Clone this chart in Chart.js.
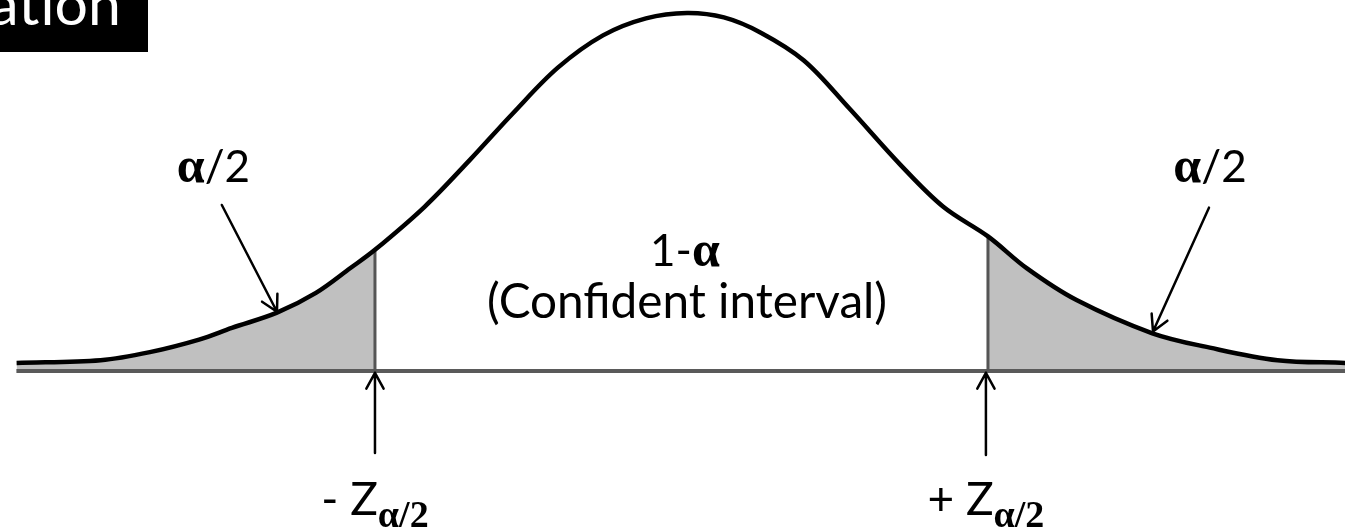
<!DOCTYPE html>
<html lang="en">
<head>
<meta charset="UTF-8">
<title>Confidence interval</title>
<script src="https://cdn.jsdelivr.net/npm/chart.js"></script>
<style>
    html, body { margin: 0; padding: 0; background: #fff; }
    .chart-box { position: relative; width: 1345px; height: 530px; }
</style>
</head>
<body>
<div class="chart-box"><canvas id="bell"></canvas></div>
<script>
// bell curve (z on the x axis, density height on y)
const curveZ = [-3.26, -2.85, -2.61, -2.37, -2.21, -1.99, -1.80, -1.63, -1.512, -1.27, -1.05, -0.84, -0.62, -0.40, -0.19, 0.01, 0.19, 0.37, 0.58, 0.80, 1.05, 1.26, 1.478, 1.67, 1.91, 2.28, 2.56, 2.89, 3.22];
const curveY = [0.009, 0.012, 0.021, 0.035, 0.048, 0.065, 0.087, 0.115, 0.135, 0.183, 0.235, 0.287, 0.338, 0.374, 0.393, 0.399, 0.394, 0.377, 0.346, 0.293, 0.230, 0.183, 0.150, 0.114, 0.079, 0.042, 0.026, 0.012, 0.009];

// critical values
const critZ = [-1.512, 1.478];
const critY = [0.135, 0.150];

// texts
const titleText = "ation";
const tailText = "α/2";
const centerTop = "1-";
const centerAlpha = "α";
const centerSub = "(Confident interval)";
const zLeft = "- Z";
const zRight = "+ Z";

// axis window
const zMin = -3.341, zMax = 3.2195;
const yMin = -0.1772, yMax = 0.4134;

function pts(xs, ys) {
    return xs.map((x, i) => ({ x: x, y: ys[i] }));
}

const leftTail = pts(curveZ, curveY).filter(p => p.x <= critZ[0]);
const rightTail = pts(curveZ, curveY).filter(p => p.x >= critZ[1]);

const sans = '"Lato", "Open Sans", sans-serif';
const greek = '"Liberation Serif", "DejaVu Serif", serif';

// draw a row of text pieces, centred on cx
function drawRuns(ctx, runs, cx, by) {
    let w = 0;
    runs.forEach(r => { ctx.font = r.font; r.w = ctx.measureText(r.t).width; w += r.w; });
    let x = cx - w / 2;
    runs.forEach(r => {
        ctx.font = r.font;
        ctx.fillText(r.t, x, by + (r.dy || 0));
        x += r.w;
    });
}

function arrow(ctx, x1, y1, x2, y2) {
    const a = Math.atan2(y2 - y1, x2 - x1);
    const len = 18, sp = 0.5;
    ctx.beginPath();
    ctx.moveTo(x1, y1);
    ctx.lineTo(x2, y2);
    ctx.moveTo(x2 - len * Math.cos(a - sp), y2 - len * Math.sin(a - sp));
    ctx.lineTo(x2, y2);
    ctx.lineTo(x2 - len * Math.cos(a + sp), y2 - len * Math.sin(a + sp));
    ctx.stroke();
}

const notes = {
    id: 'notes',
    afterDatasetsDraw(chart) {
        const ctx = chart.ctx;
        const sx = chart.scales.x, sy = chart.scales.y;
        const X = v => sx.getPixelForValue(v);
        const Y = v => sy.getPixelForValue(v);
        ctx.save();
        ctx.strokeStyle = '#000';
        ctx.lineWidth = 2.5;
        ctx.lineCap = 'round';
        ctx.lineJoin = 'round';
        // arrows to the tails
        arrow(ctx, X(-2.259), Y(0.185), X(-1.99), Y(0.066));
        arrow(ctx, X(2.556), Y(0.182), X(2.283), Y(0.044));
        // arrows up to the critical values
        arrow(ctx, X(critZ[0]), Y(-0.0914), X(critZ[0]), Y(-0.002));
        arrow(ctx, X(1.468), Y(-0.0936), X(1.468), Y(-0.002));

        ctx.fillStyle = '#000';
        ctx.textBaseline = 'alphabetic';
        ctx.textAlign = 'left';
        // α/2 labels
        [-2.30, 2.561].forEach(z => {
            drawRuns(ctx, [
                { t: tailText[0], font: 'bold 50px ' + greek },
                { t: tailText.slice(1), font: '44px ' + sans }
            ], X(z), Y(0.2106));
        });
        // centre label
        drawRuns(ctx, [
            { t: centerTop, font: '44px ' + sans },
            { t: centerAlpha, font: 'bold 50px ' + greek }
        ], X(0.0), Y(0.117));
        ctx.font = '40px ' + sans;
        let w = ctx.measureText(centerSub).width;
        let fs = 40 * 400 / w;
        drawRuns(ctx, [{ t: centerSub, font: fs.toFixed(1) + 'px ' + sans }], X(0.01), Y(0.0591));
        // critical value labels
        const dy = Y(-0.1738) - Y(-0.1604);
        drawRuns(ctx, [
            { t: zLeft, font: '46px ' + sans },
            { t: tailText, font: 'bold 38px ' + greek, dy: dy }
        ], X(critZ[0]), Y(-0.1604));
        drawRuns(ctx, [
            { t: zRight, font: '46px ' + sans },
            { t: tailText, font: 'bold 38px ' + greek, dy: dy }
        ], X(1.468), Y(-0.1604));

        // title box cut at the top-left corner
        ctx.fillStyle = '#000';
        ctx.fillRect(0, 0, 148, 52);
        ctx.fillStyle = '#fff';
        ctx.font = '59px ' + sans;
        ctx.textAlign = 'right';
        ctx.fillText(titleText, 121, 25);
        ctx.restore();
    }
};

new Chart(document.getElementById('bell'), {
    type: 'line',
    data: {
        datasets: [
            {
                data: pts(curveZ, curveY),
                borderColor: '#000',
                borderWidth: 4.5,
                tension: 0.35,
                fill: false,
                order: 0
            },
            {
                data: [{ x: critZ[0], y: 0 }, { x: critZ[0], y: critY[0] }],
                borderColor: '#555',
                borderWidth: 3,
                fill: false,
                order: 1
            },
            {
                data: [{ x: critZ[1], y: 0 }, { x: critZ[1], y: critY[1] }],
                borderColor: '#555',
                borderWidth: 3,
                fill: false,
                order: 1
            },
            {
                data: [{ x: zMin + 0.08, y: 0 }, { x: zMax, y: 0 }],
                borderColor: '#5a5a5a',
                borderWidth: 4,
                fill: false,
                order: 2
            },
            {
                data: leftTail,
                borderWidth: 0,
                borderColor: 'rgba(0,0,0,0)',
                backgroundColor: '#c0c0c0',
                tension: 0.35,
                fill: 'origin',
                order: 3
            },
            {
                data: rightTail,
                borderWidth: 0,
                borderColor: 'rgba(0,0,0,0)',
                backgroundColor: '#c0c0c0',
                tension: 0.35,
                fill: 'origin',
                order: 3
            }
        ]
    },
    options: {
        responsive: true,
        maintainAspectRatio: false,
        animation: false,
        layout: { padding: 0 },
        elements: { point: { radius: 0, hoverRadius: 0 } },
        plugins: { legend: { display: false }, tooltip: { enabled: false } },
        scales: {
            x: { type: 'linear', display: false, min: zMin, max: zMax },
            y: { display: false, min: yMin, max: yMax }
        }
    },
    plugins: [notes]
});
</script>
</body>
</html>
